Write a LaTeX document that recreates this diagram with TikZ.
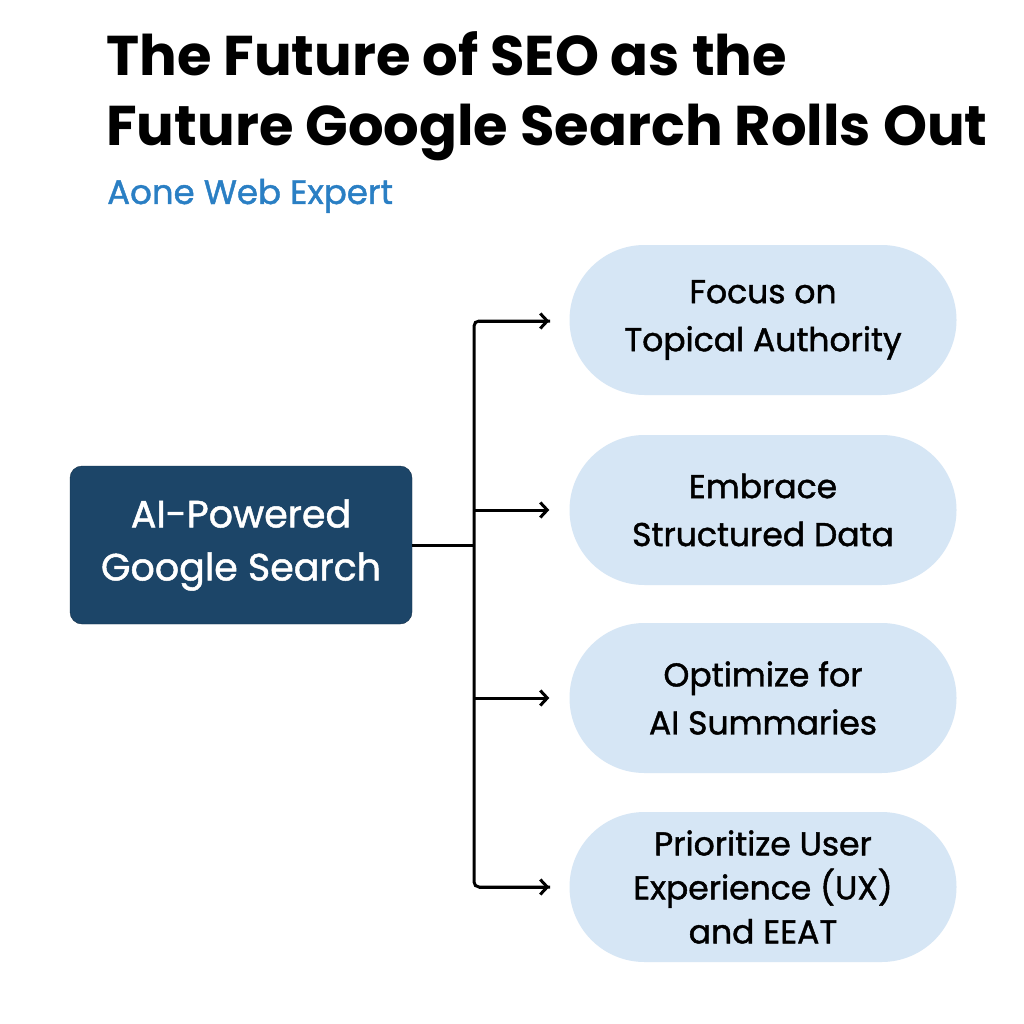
\documentclass[tikz,border=0pt]{standalone}
\usepackage{fontspec}
\setmainfont{Poppins}
\newfontfamily\medf[UprightFeatures={FakeBold=1.3}]{Poppins}
\usetikzlibrary{arrows.meta}
\definecolor{navy}{HTML}{1C4568}
\definecolor{pill}{HTML}{D6E6F5}
\definecolor{sub}{HTML}{2A7FC4}
\begin{document}
\begin{tikzpicture}[x=1pt,y=-1pt,
  pillbox/.style={fill=pill,rounded corners=75pt,minimum width=387pt,minimum height=150pt,align=center,font=\medf\fontsize{33}{48}\selectfont,text=black},
  conn/.style={line width=3pt,black},
  arr/.style={conn,-{Straight Barb[length=7pt,width=15pt]}}]
\useasboundingbox (0,0) rectangle (1024,1024);
\fill[white] (0,0) rectangle (1024,1024);
\node[anchor=base west,inner sep=0,font=\fontsize{56}{60}\selectfont\bfseries] (t1) at (106,76) {The Future of SEO as the};
\node[anchor=base west,inner sep=0,font=\fontsize{56}{60}\selectfont\bfseries] (t2) at (106,146) {Future Google Search Rolls Out};
\node[anchor=base west,inner sep=0,text=sub,font=\medf\fontsize{34}{36}\selectfont] (st) at (107,204) {Aone Web Expert};
\node[fill=navy,draw=navy!70!black,rounded corners=12pt,minimum width=342pt,minimum height=158pt,align=center,text=white,font=\medf\fontsize{38}{53}\selectfont] (src) at (241,545) {AI-Powered\\Google Search};
\node[pillbox] (p1) at (763,320) {Focus on\\Topical Authority};
\node[pillbox] (p2) at (763,510) {Embrace\\Structured Data};
\node[pillbox] (p3) at (763,698) {Optimize for\\AI Summaries};
\node[pillbox,font=\medf\fontsize{33}{44}\selectfont] (p4) at (763,887) {Prioritize User\\Experience (UX)\\and EEAT};
\coordinate (j) at (474,545);
\coordinate (top) at (474,321);
\coordinate (bot) at (474,887);
\draw[conn] (src.east) -- (j);
\draw[conn,rounded corners=5pt] (550,321) -- (top) -- (bot) -- (550,887);
\draw[arr] (top) ++(5,0) -- ([xshift=-20pt]p1.west |- top);
\draw[arr] (474,510) -- ([xshift=-20pt]p2.west);
\draw[arr] (474,698) -- ([xshift=-20pt]p3.west);
\draw[arr] (bot) ++(5,0) -- ([xshift=-20pt]p4.west |- bot);
\end{tikzpicture}
\end{document}
